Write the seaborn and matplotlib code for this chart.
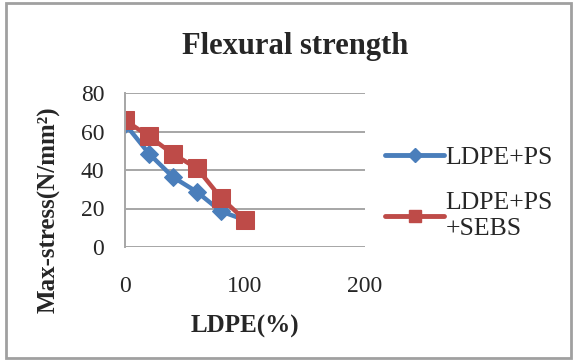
import matplotlib
matplotlib.use("Agg")
import matplotlib.pyplot as plt
import seaborn as sns
import pandas as pd
from matplotlib.lines import Line2D
from matplotlib.patches import Rectangle

ldpe = [0, 20, 40, 60, 80, 100]
ldpe_ps = [64, 48.5, 36.3, 28.6, 18.5, 14]
ldpe_ps_sebs = [65.8, 57.5, 48.3, 40.9, 25.5, 14]
series_names = ["LDPE+PS", "LDPE+PS\n+SEBS"]
x_ticks = [0, 100, 200]
y_ticks = [0, 20, 40, 60, 80]

df = pd.DataFrame({
    "LDPE": ldpe * 2,
    "stress": ldpe_ps + ldpe_ps_sebs,
    "series": [series_names[0]] * len(ldpe) + [series_names[1]] * len(ldpe),
})

sns.set_style("white")
plt.rcParams["font.family"] = ["Liberation Serif", "DejaVu Serif"]

blue = "#4A7EBB"
red = "#BE4B48"

fig = plt.figure(figsize=(5.79, 3.60), dpi=100)
ax = fig.add_axes([125 / 579, 1 - 247 / 360, 240 / 579, 154 / 360])

sns.lineplot(data=df[df.series == series_names[0]], x="LDPE", y="stress",
             color=blue, marker="D", markersize=9, linewidth=3.2,
             markeredgecolor=blue, ax=ax, legend=False)
sns.lineplot(data=df[df.series == series_names[1]], x="LDPE", y="stress",
             color=red, marker="s", markersize=12.5, linewidth=3.2,
             markeredgecolor=red, ax=ax, legend=False)

ax.set_xlim(0, 200)
ax.set_ylim(0, 80)
ax.set_xticks(x_ticks)
ax.set_yticks(y_ticks)
ax.yaxis.grid(True, color="#A6A6A6", linewidth=1.4)
ax.set_axisbelow(True)
for s in ["top", "right", "bottom"]:
    ax.spines[s].set_visible(False)
ax.spines["left"].set_color("#A6A6A6")
ax.spines["left"].set_linewidth(1.4)
ax.tick_params(axis="both", length=0, labelsize=17)
ax.tick_params(axis="y", pad=15)
ax.tick_params(axis="x", pad=21)

ax.set_xlabel("LDPE(%)", fontsize=18, fontweight="bold", labelpad=13)
ax.set_ylabel("Max-stress(N/mm²)", fontsize=18, fontweight="bold")
ax.yaxis.set_label_coords(-0.27, 0.24)

fig.text(0.51, 0.87, "Flexural strength", fontsize=22, fontweight="bold",
         ha="center", va="center")

handles = [
    Line2D([], [], color=blue, marker="D", markersize=7, linewidth=3.5),
    Line2D([], [], color=red, marker="s", markersize=9, linewidth=3.5),
]
fig.legend(handles, series_names, loc="center left",
           bbox_to_anchor=(362 / 579, 1 - 193 / 360), frameon=False,
           fontsize=18.5, handlelength=2.3, handletextpad=0.05,
           labelspacing=0.9)

fig.patches.append(Rectangle((6 / 579, 2 / 360), 565 / 579, 355 / 360,
                             transform=fig.transFigure, fill=False,
                             edgecolor="#A0A0A0", linewidth=2))

fig.savefig("out.png", dpi=100)
